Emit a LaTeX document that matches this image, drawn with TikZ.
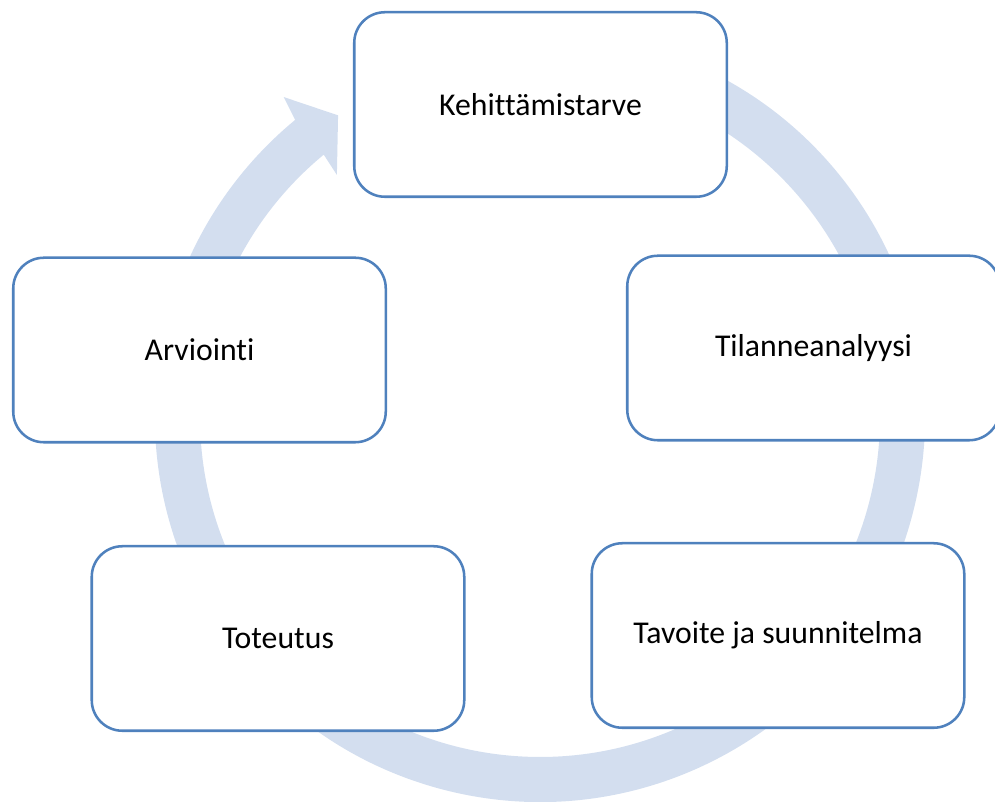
\documentclass[tikz,border=0pt]{standalone}
\usepackage{fontspec}
\setmainfont[Ligatures={NoCommon}]{Carlito}
\definecolor{ringblue}{RGB}{211,222,239}
\definecolor{edgeblue}{RGB}{79,129,189}

\begin{document}
\begin{tikzpicture}[x=0.75pt,y=0.75pt,
  phase/.style={draw=edgeblue,line width=1.9pt,fill=white,rounded corners=23pt,
    minimum width=279.4pt,minimum height=138.4pt,inner sep=0pt,
    font=\fontsize{23.8}{28}\selectfont}]
  \useasboundingbox (0,0) rectangle (995,802);
  % circular arrow behind the boxes
  \fill[ringblue,shift={(540,385)}] (75:385) arc[start angle=75,end angle=-230.5,radius=385]
    -- (128.7:410) -- (123.8:363) -- (130:316) -- (-230.5:340)
    arc[start angle=-230.5,end angle=75,radius=340] -- cycle;

  \node[phase] (need)   at (540.5,697.5) {Kehittämistarve};
  \node[phase] (anal)   at (813.5,454)   {Tilanneanalyysi};
  \node[phase] (goal)   at (778,166.5)   {Tavoite ja suunnitelma};
  \node[phase] (impl)   at (278,163.5)   {Toteutus};
  \node[phase] (eval)   at (199.5,452)   {Arviointi};
\end{tikzpicture}
\end{document}
